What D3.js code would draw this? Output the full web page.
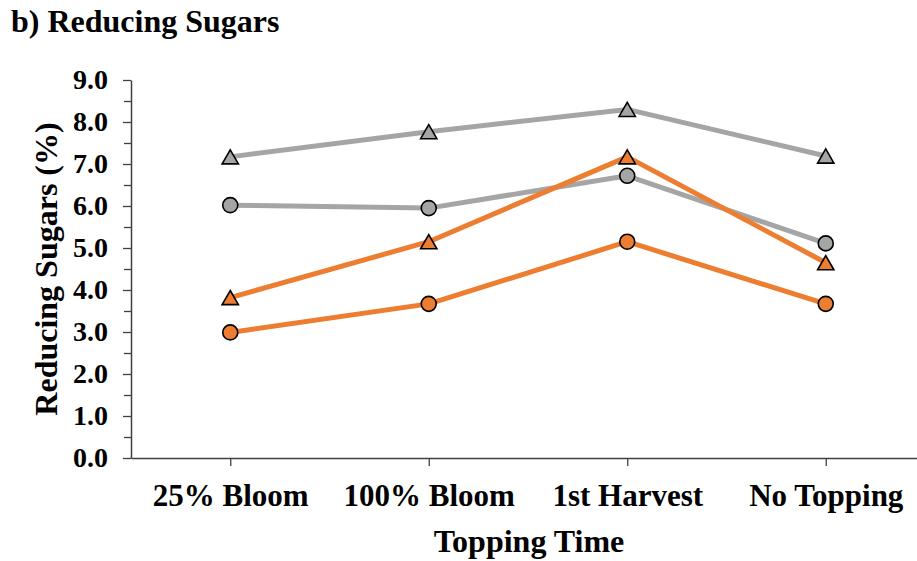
<!DOCTYPE html>
<html>
<head>
<meta charset="utf-8">
<script src="https://cdn.jsdelivr.net/npm/d3@7"></script>
<style>
  html, body { margin: 0; padding: 0; background: #fff; }
  svg { display: block; }
  text { font-family: "Liberation Serif", "Times New Roman", serif; font-weight: bold; fill: #000; }
</style>
</head>
<body>
<svg id="chart" width="917" height="561"></svg>
<script>
// Topping time treatments
const categories = ["25% Bloom", "100% Bloom", "1st Harvest", "No Topping"];

// Reducing sugar content (%) per series
const greyTriangle   = [7.17, 7.77, 8.30, 7.19];
const greyCircle     = [6.02, 5.95, 6.72, 5.11];
const orangeTriangle = [3.82, 5.15, 7.17, 4.65];
const orangeCircle   = [2.99, 3.67, 5.15, 3.67];

const yTicks = [0, 1, 2, 3, 4, 5, 6, 7, 8, 9];
const yMinorTicks = [0.5, 1.5, 2.5, 3.5, 4.5, 5.5, 6.5, 7.5, 8.5];

const series = [
  { values: greyTriangle,   color: "#a5a5a5", shape: "triangle" },
  { values: greyCircle,     color: "#a5a5a5", shape: "circle" },
  { values: orangeTriangle, color: "#ed7d31", shape: "triangle" },
  { values: orangeCircle,   color: "#ed7d31", shape: "circle" }
];

const svg = d3.select("#chart");
const plotLeft = 131, plotRight = 925, plotTop = 80, plotBottom = 458;

const x = d3.scalePoint().domain(categories).range([plotLeft, plotRight]).padding(0.5);
const y = d3.scaleLinear().domain([0, 9]).range([plotBottom, plotTop]);

// Title
svg.append("text")
  .attr("x", 11).attr("y", 32)
  .style("font-size", "32px")
  .text("b) Reducing Sugars");

// Y axis: minor ticks first, then major ticks with labels
const yMinor = svg.append("g").attr("transform", `translate(${plotLeft},0)`)
  .call(d3.axisLeft(y).tickValues(yMinorTicks).tickSize(7).tickFormat(""));
yMinor.select(".domain").remove();
yMinor.selectAll("line").attr("stroke", "#404040").attr("stroke-width", 1.3);

const yAxis = svg.append("g").attr("transform", `translate(${plotLeft},0)`)
  .call(d3.axisLeft(y).tickValues(yTicks).tickSize(8).tickSizeOuter(0).tickPadding(15)
    .tickFormat(d3.format(".1f")));
yAxis.select(".domain").attr("stroke", "#404040").attr("stroke-width", 1.5);
yAxis.selectAll("line").attr("stroke", "#404040").attr("stroke-width", 1.3);
yAxis.selectAll("text").style("font-size", "28px")
  .style("font-family", "'Liberation Serif', 'Times New Roman', serif")
  .style("font-weight", "bold").attr("fill", "#000");

// X axis
const xAxis = svg.append("g").attr("transform", `translate(0,${plotBottom})`)
  .call(d3.axisBottom(x).tickSize(8).tickSizeOuter(0).tickPadding(18));
xAxis.select(".domain").attr("stroke", "#404040").attr("stroke-width", 1.5);
xAxis.selectAll("line").attr("stroke", "#404040").attr("stroke-width", 1.3);
xAxis.selectAll("text").style("font-size", "31px")
  .style("font-family", "'Liberation Serif', 'Times New Roman', serif")
  .style("font-weight", "bold").attr("fill", "#000");

// Axis titles
svg.append("text")
  .attr("x", (plotLeft + plotRight) / 2 + 1).attr("y", 552)
  .attr("text-anchor", "middle")
  .style("font-size", "32px")
  .text("Topping Time");

svg.append("text")
  .attr("transform", `translate(57,${(plotTop + plotBottom) / 2}) rotate(-90)`)
  .attr("text-anchor", "middle")
  .style("font-size", "32px")
  .text("Reducing Sugars (%)");

// Series lines and markers
const line = d3.line().x((d, i) => x(categories[i])).y(d => y(d));
const triSize = 115;
const triY = Math.sqrt(triSize / (Math.sqrt(3) * 3)); // d3 triangle offset

series.forEach(s => {
  const g = svg.append("g");
  g.append("path")
    .datum(s.values)
    .attr("d", line)
    .attr("fill", "none")
    .attr("stroke", s.color)
    .attr("stroke-width", 5)
    .attr("stroke-linejoin", "round");

  if (s.shape === "circle") {
    g.selectAll("circle").data(s.values).join("circle")
      .attr("cx", (d, i) => x(categories[i]))
      .attr("cy", d => y(d))
      .attr("r", 7.5)
      .attr("fill", s.color)
      .attr("stroke", "#000")
      .attr("stroke-width", 1.6);
  } else {
    g.selectAll("path.m").data(s.values).join("path")
      .attr("class", "m")
      .attr("d", d3.symbol(d3.symbolTriangle, triSize))
      .attr("transform", (d, i) => `translate(${x(categories[i])},${y(d) + triY / 2})`)
      .attr("fill", s.color)
      .attr("stroke", "#000")
      .attr("stroke-width", 1.6);
  }
});
</script>
</body>
</html>
